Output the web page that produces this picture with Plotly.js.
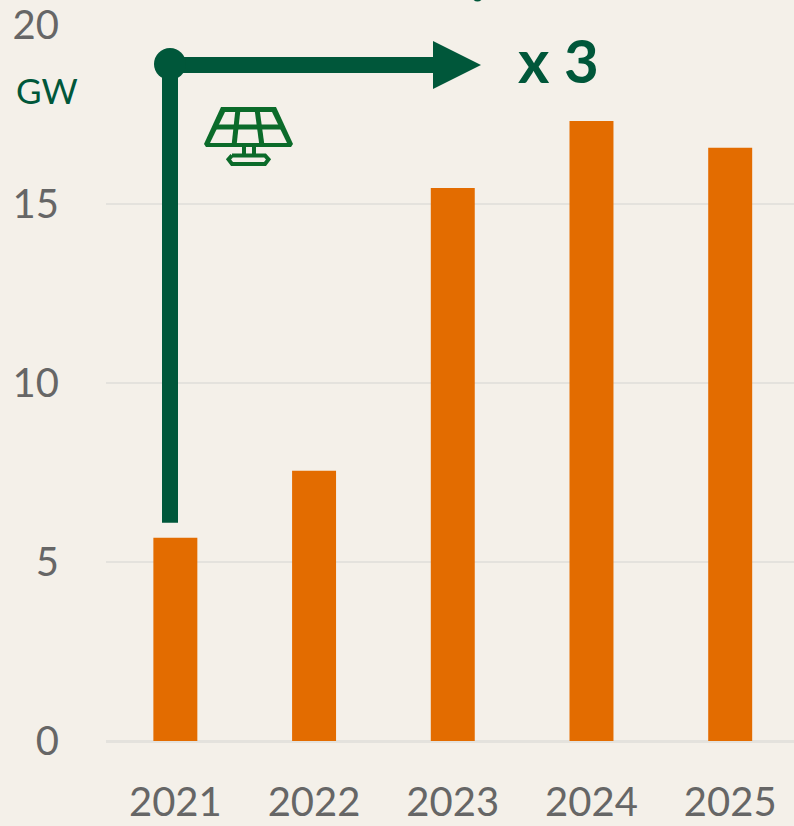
<!DOCTYPE html>
<html><head><meta charset="utf-8">
<script src="https://cdn.plot.ly/plotly-3.0.1.min.js"></script>
<style>html,body{margin:0;padding:0;background:#f4f0e9;overflow:hidden}#c{width:794px;height:826px}</style>
</head><body><div id="c"></div>
<script>
const years = ['2021','2022','2023','2024','2025'];
const capacityGW = [5.68, 7.55, 15.45, 17.32, 16.57];
const yTicks = [0,5,10,15,20];
const W=794,H=826,L=106,T=25,B=741.5;
const green='#00573a', iconGreen='#0b6b2a';
const px=x=>(x-L)/(W-L), py=y=>(B-y)/(B-T);
const path=(pts,close)=>pts.map((p,i)=>(i?'L':'M')+px(p[0])+','+py(p[1])).join(' ')+(close?' Z':'');
const line=(pts,w,col)=>({type:'path',xref:'paper',yref:'paper',path:path(pts),line:{color:col,width:w},layer:'above'});
const poly=(pts,col)=>({type:'path',xref:'paper',yref:'paper',path:path(pts,true),fillcolor:col,line:{width:0},layer:'above'});
const shapes=[
  line([[170,523],[170,65]],16,green),
  line([[170,65],[436,65]],16,green),
  poly([[433,41],[481,65],[433,89]],green),
  {type:'circle',xref:'paper',yref:'paper',x0:px(154),x1:px(186),y0:py(80),y1:py(48),fillcolor:green,line:{width:0},layer:'above'},
  {type:'circle',xref:'paper',yref:'paper',x0:px(472),x1:px(483),y0:py(1.5),y1:py(-9),fillcolor:green,line:{width:0},layer:'above'},
  // solar panel icon
  poly([[221,107],[276,107],[293,144],[291,147],[206,147],[204,144]],iconGreen),
  poly([[225,112],[272,112],[287,143],[210,143]],'#f4f0e9'),
  line([[214,127],[283,127]],5,iconGreen),
  line([[238,109],[234,146]],5,iconGreen),
  line([[257,109],[262,146]],5,iconGreen),
  line([[244,146],[244,156]],4,iconGreen),
  line([[254,146],[254,156]],4,iconGreen),
  line([[232,155.5],[265,155.5],[268.5,159.5],[265,164],[232,164],[228.5,159.5],[232,155.5]],4,iconGreen)
];
const data=[{type:'bar',x:years,y:capacityGW,width:0.317,marker:{color:'#e36c00',line:{width:0}},hoverinfo:'skip'}];
const layout={
  width:W,height:H,margin:{l:L,r:0,t:T,b:H-B,pad:0},
  paper_bgcolor:'#f4f0e9',plot_bgcolor:'#f4f0e9',showlegend:false,
  font:{family:'Lato, sans-serif',size:40,color:'#666666'},
  xaxis:{type:'category',range:[-0.5,4.46],showgrid:false,zeroline:false,ticks:'outside',ticklen:26,tickcolor:'rgba(0,0,0,0)',
    tickfont:{size:40,color:'#666666'},showline:false,automargin:false,fixedrange:true},
  yaxis:{range:[0,20],tickvals:yTicks,ticktext:yTicks.map(String),gridcolor:'#e4e2dd',gridwidth:2,
    zeroline:true,zerolinecolor:'#e4e2dd',zerolinewidth:3,ticks:'outside',ticklen:38,tickcolor:'rgba(0,0,0,0)',
    tickfont:{size:40,color:'#666666'},automargin:false,fixedrange:true},
  shapes:shapes,
  annotations:[
    {xref:'paper',yref:'paper',x:px(47),y:py(90),text:'GW',showarrow:false,xanchor:'center',yanchor:'middle',font:{family:'Lato, sans-serif',size:35,color:green}},
    {xref:'paper',yref:'paper',x:px(558),y:py(60),text:'<b>x 3</b>',showarrow:false,xanchor:'center',yanchor:'middle',font:{family:'Lato, sans-serif',size:60,color:green}}
  ]
};
Plotly.newPlot('c',data,layout,{displayModeBar:false,staticPlot:true});
</script></body></html>
